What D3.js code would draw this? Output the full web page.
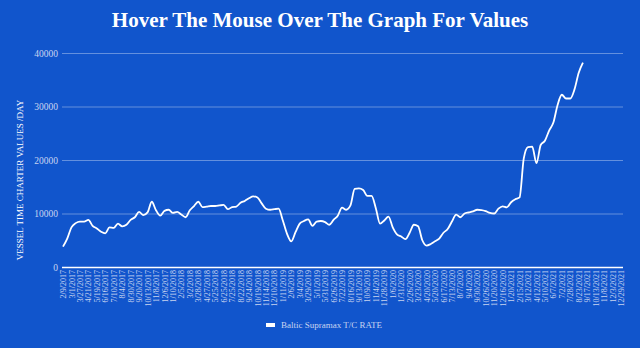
<!DOCTYPE html>
<html>
<head>
<meta charset="utf-8">
<script src="https://cdn.jsdelivr.net/npm/d3@7"></script>
<style>
  body { margin: 0; background: #1155cc; }
  svg { display: block; }
  text { font-family: "Liberation Serif", "DejaVu Serif", serif; }
</style>
</head>
<body>
<svg id="chart" width="640" height="348"></svg>
<script>
  // axis labels (one every ~18 trading days)
  const tickDates = [
    "2/9/2017", "3/1/2017", "3/27/2017", "4/21/2017", "5/19/2017", "6/16/2017",
    "7/10/2017", "8/4/2017", "8/30/2017", "9/20/2017", "10/13/2017", "11/8/2017",
    "12/6/2017", "1/10/2018", "2/5/2018", "3/2/2018", "3/28/2018", "4/27/2018",
    "5/25/2018", "6/25/2018", "7/25/2018", "8/22/2018", "9/24/2018", "10/19/2018",
    "11/14/2018", "12/10/2018", "1/11/2019", "2/6/2019", "3/4/2019", "3/29/2019",
    "5/1/2019", "5/31/2019", "6/26/2019", "7/22/2019", "8/16/2019", "9/13/2019",
    "10/9/2019", "11/4/2019", "11/28/2019", "1/6/2020", "1/31/2020", "2/26/2020",
    "3/23/2020", "4/20/2020", "5/20/2020", "6/17/2020", "7/13/2020", "8/7/2020",
    "9/4/2020", "9/30/2020", "10/26/2020", "11/20/2020", "12/16/2020", "1/20/2021",
    "2/15/2021", "3/12/2021", "4/12/2021", "5/10/2021", "6/7/2021", "7/2/2021",
    "7/28/2021", "8/23/2021", "9/17/2021", "10/13/2021", "11/8/2021", "12/3/2021",
    "12/29/2021"
  ];

  // rate readings, one every half label step
  const rates = [
    3800, 5300, 7400, 8200, 8500, 8500, 8800, 7700, 7200, 6600,
    6300, 7400, 7300, 8100, 7600, 7900, 8800, 9300, 10300, 9700,
    10200, 12200, 10600, 9600, 10500, 10700, 10100, 10300, 9800, 9300,
    10600, 11400, 12200, 11200, 11300, 11400, 11400, 11500, 11600, 10800,
    11200, 11300, 12000, 12350, 12850, 13200, 13000, 11900, 10900, 10700,
    10800, 10900, 8700, 6200, 4800, 6500, 8100, 8600, 8900, 7700,
    8500, 8600, 8400, 7900, 8800, 9600, 11100, 10700, 11500, 14600,
    14700, 14400, 13300, 13300, 11000, 8100, 8700, 9400, 7400, 6100,
    5700, 5200, 6400, 7900, 7600, 5000, 4000, 4300, 4800, 5300,
    6400, 7100, 8500, 9800, 9300, 10000, 10200, 10400, 10700, 10650,
    10450, 10100, 10000, 10900, 11350, 11150, 12100, 12650, 13000, 20300,
    22400, 22500, 19400, 22800, 23600, 25500, 27000, 30300, 32200, 31500,
    31500, 33200, 36300, 38200
  ];
  const step = 0.5;

  const yTicks = [0, 10000, 20000, 30000, 40000];

  const title = "Hover The Mouse Over The Graph For Values";
  const yTitle = "VESSEL  TIME CHARTER VALUES /DAY";
  const seriesName = "Baltic Supramax T/C RATE";

  const svg = d3.select("#chart");
  const m = { left: 63, right: 621, top: 53, bottom: 267 };

  const x = d3.scaleLinear().domain([0, tickDates.length - 1]).range([m.left, m.right]);
  const y = d3.scaleLinear().domain([0, 40000]).range([m.bottom, m.top]);

  svg.append("rect").attr("width", 640).attr("height", 348).attr("fill", "#1155cc");

  svg.append("text")
    .attr("x", 320).attr("y", 27)
    .attr("text-anchor", "middle")
    .attr("fill", "#ffffff")
    .attr("font-size", 21)
    .attr("font-weight", "bold")
    .text(title);

  // gridlines + y labels
  const yAxis = svg.append("g")
    .attr("transform", `translate(${m.left - 1},0)`)
    .call(d3.axisLeft(y).tickValues(yTicks).tickSize(-(m.right - m.left + 3)).tickPadding(4).tickFormat(d3.format("d")));
  yAxis.select(".domain").remove();
  yAxis.selectAll("line")
    .attr("stroke", "#ffffff")
    .attr("stroke-opacity", (d) => (d === 0 ? 1 : 0.35))
    .attr("stroke-width", (d) => (d === 0 ? 1.5 : 1));
  yAxis.selectAll("text")
    .attr("fill", "#c8d4f0")
    .attr("font-size", 9.5)
    .attr("font-family", "Liberation Serif, serif");

  svg.append("text")
    .attr("transform", "translate(23,180) rotate(-90)")
    .attr("text-anchor", "middle")
    .attr("fill", "#ffffff")
    .attr("font-size", 9)
    .text(yTitle);

  // x labels, rotated
  const xAxis = svg.append("g")
    .attr("transform", `translate(0,${m.bottom})`)
    .call(d3.axisBottom(x).tickValues(d3.range(tickDates.length)).tickSize(0).tickPadding(0).tickFormat((i) => tickDates[i]));
  xAxis.select(".domain").remove();
  xAxis.selectAll("text")
    .attr("transform", "rotate(-90)")
    .attr("text-anchor", "end")
    .attr("x", -3)
    .attr("y", 0)
    .attr("dy", "0.32em")
    .attr("fill", "#c8d4f0")
    .attr("font-size", 8)
    .attr("font-family", "Liberation Serif, serif");

  const line = d3.line()
    .x((d, i) => x(i * step))
    .y((d) => y(d))
    .curve(d3.curveMonotoneX);

  svg.append("path")
    .datum(rates)
    .attr("fill", "none")
    .attr("stroke", "#ffffff")
    .attr("stroke-width", 1.8)
    .attr("stroke-linejoin", "round")
    .attr("d", line);

  // legend
  const legend = svg.append("g").attr("transform", "translate(266,325)");
  legend.append("rect")
    .attr("x", 0).attr("y", -2).attr("width", 9).attr("height", 4)
    .attr("fill", "#ffffff");
  legend.append("text")
    .attr("x", 15).attr("y", 3)
    .attr("fill", "#c8d4f0")
    .attr("font-size", 9)
    .text(seriesName);
</script>
</body>
</html>
